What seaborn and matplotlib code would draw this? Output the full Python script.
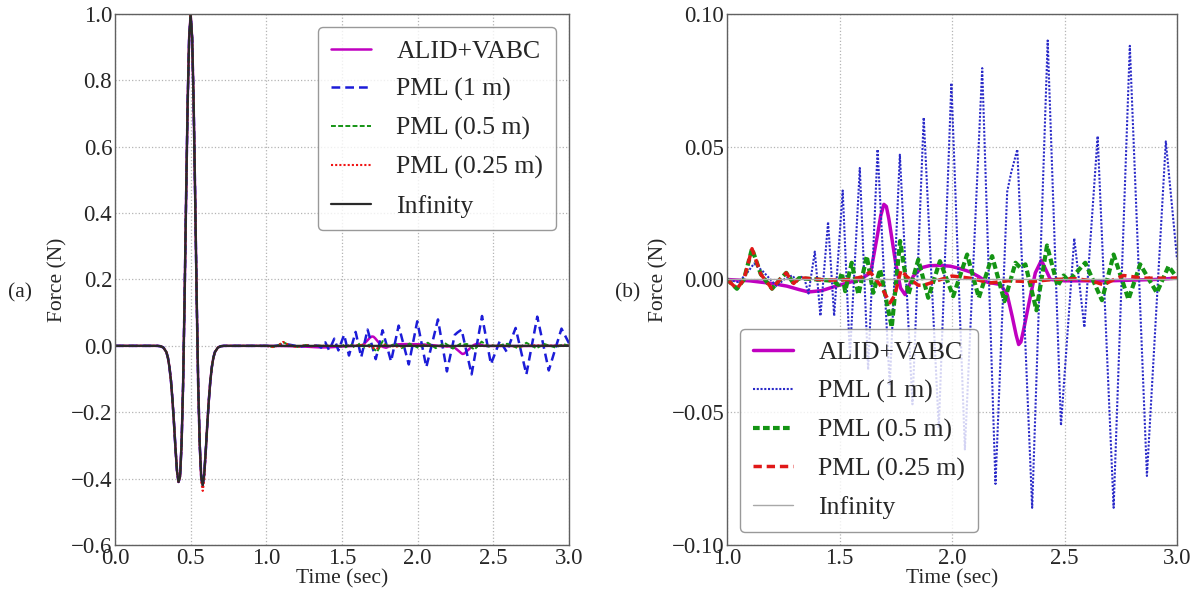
import matplotlib
import pandas as pd
import seaborn as sns

matplotlib.use("Agg")
import matplotlib.pyplot as plt


sns.set_style("white")
plt.rcParams.update({
    "font.family": ["Liberation Serif", "DejaVu Serif"],
    "axes.unicode_minus": True,
})

# incident Ricker-like pulse, shared by every model
PULSE_TIME = [0.28, 0.30, 0.32, 0.34, 0.35, 0.36, 0.37, 0.38, 0.39, 0.40, 0.41, 0.42, 0.43,
              0.44, 0.45, 0.46, 0.47, 0.48, 0.49, 0.50, 0.51, 0.52, 0.53, 0.54, 0.55, 0.56,
              0.57, 0.58, 0.59, 0.60, 0.61, 0.62, 0.63, 0.64, 0.65, 0.66, 0.68, 0.70, 0.72]
PULSE_FORCE = [0.0, -0.001, -0.005, -0.019, -0.036, -0.064, -0.105, -0.163, -0.233, -0.310,
               -0.378, -0.410, -0.394, -0.297, -0.120, 0.142, 0.445, 0.727, 0.928, 1.000,
               0.928, 0.727, 0.445, 0.142, -0.120, -0.297, -0.397, -0.420, -0.385, -0.315,
               -0.237, -0.165, -0.106, -0.064, -0.036, -0.019, -0.005, -0.001, 0.0]
# PML (0.25 m) dips a little deeper at the second trough
PML025_TROUGH_TIME = [0.57, 0.58, 0.59]
PML025_TROUGH_FORCE = [-0.410, -0.437, -0.402]

ALID_TIME = [0.75, 1.00, 1.10, 1.20, 1.266, 1.32, 1.362, 1.42, 1.473, 1.547, 1.591, 1.638,
             1.668, 1.683, 1.697, 1.708, 1.719, 1.749, 1.771, 1.791, 1.828, 1.866, 1.90,
             1.948, 1.993, 2.04, 2.082, 2.12, 2.156, 2.215, 2.245, 2.267, 2.285, 2.296,
             2.306, 2.318, 2.348, 2.370, 2.397, 2.415, 2.437, 2.50, 2.70, 2.90, 3.00]
ALID_FORCE = [0.0, 0.0, -0.0005, -0.0015, -0.0025, -0.0038, -0.0047, -0.0042, -0.0028,
              -0.001, 0.0, 0.0025, 0.0165, 0.024, 0.0283, 0.0275, 0.0229, 0.0064, -0.0032,
              -0.0057, 0.0013, 0.0045, 0.0052, 0.0053, 0.005, 0.004, 0.0028, 0.001, -0.001,
              -0.0019, -0.0057, -0.0138, -0.021, -0.0245, -0.0235, -0.0189, -0.0063, 0.0025,
              0.0072, 0.004, 0.0, -0.0005, -0.0005, 0.0, 0.0005]

PML1_TIME = [0.75, 1.00, 1.05, 1.085, 1.12, 1.16, 1.22, 1.26, 1.29, 1.31, 1.33, 1.345, 1.362,
             1.39, 1.415, 1.449, 1.476, 1.514, 1.546, 1.590, 1.627, 1.669, 1.723, 1.768,
             1.824, 1.874, 1.941, 1.997, 2.057, 2.134, 2.193, 2.245, 2.262, 2.290, 2.356,
             2.425, 2.484, 2.543, 2.588, 2.647, 2.718, 2.790, 2.866, 2.950, 3.000]
PML1_FORCE = [0.0, 0.0, -0.001, 0.002, 0.006, 0.003, -0.0025, 0.0005, 0.0015, -0.0005, 0.001,
              0.0, -0.0053, 0.0105, -0.0137, 0.0217, -0.0137, 0.0335, -0.029, 0.042, -0.034,
              0.049, -0.040, 0.047, -0.047, 0.061, -0.056, 0.074, -0.064, 0.0796, -0.077,
              0.033, 0.040, 0.049, -0.086, 0.090, -0.055, 0.0155, -0.018, 0.054, -0.086,
              0.088, -0.074, 0.052, 0.0076]

PML05_TIME = [0.75, 1.00, 1.044, 1.075, 1.111, 1.15, 1.20, 1.235, 1.263, 1.296, 1.32, 1.40,
              1.47, 1.495, 1.51, 1.525, 1.554, 1.584, 1.621, 1.65, 1.68, 1.732, 1.769, 1.806,
              1.85, 1.894, 1.946, 2.005, 2.067, 2.119, 2.178, 2.233, 2.282, 2.304, 2.326,
              2.375, 2.422, 2.469, 2.496, 2.518, 2.592, 2.666, 2.718, 2.784, 2.836, 2.91,
              2.962, 3.0]
PML05_FORCE = [0.0, 0.0, -0.0035, 0.0, 0.0116, 0.002, -0.0035, 0.0, 0.0025, -0.0015, 0.0005,
               0.0, -0.0005, -0.002, 0.0025, -0.0044, 0.0063, -0.0057, 0.0088, -0.005, 0.0038,
               -0.018, 0.0145, -0.0057, 0.0075, -0.0069, 0.0069, -0.0063, 0.0094, -0.0069,
               0.0088, -0.0082, 0.0063, 0.0044, 0.0057, -0.0116, 0.0128, -0.0025, 0.0015,
               -0.0006, 0.0063, -0.0078, 0.0094, -0.0075, 0.0057, -0.005, 0.005, 0.0006]

PML025_TIME = [0.75, 1.00, 1.044, 1.075, 1.111, 1.15, 1.20, 1.235, 1.263, 1.296, 1.32, 1.35,
               1.45, 1.55, 1.60, 1.636, 1.68, 1.724, 1.745, 1.773, 1.80, 1.85, 1.88, 1.95,
               2.00, 2.08, 2.17, 2.25, 2.35, 2.45, 2.55, 2.62, 2.673, 2.72, 2.762, 2.85, 3.0]
PML025_FORCE = [0.0, 0.0, -0.0035, 0.0, 0.0116, 0.002, -0.0035, 0.0, 0.0025, -0.0015, 0.0005,
                0.0005, -0.0003, 0.0, 0.001, 0.0028, -0.002, -0.0088, -0.006, 0.0035, 0.001,
                -0.0022, -0.002, 0.0, 0.0013, 0.0005, -0.0013, -0.0005, -0.0008, 0.0, 0.0003,
                -0.0005, -0.002, 0.0, 0.0015, 0.0005, 0.0005]

INFINITY_TIME = [0.75, 3.0]
INFINITY_FORCE = [0.0, 0.0]

MODELS = ["ALID+VABC", "PML (1 m)", "PML (0.5 m)", "PML (0.25 m)", "Infinity"]

STYLE_A = {
    "ALID+VABC": dict(color="#c000c0", linestyle="-", linewidth=1.8),
    "PML (1 m)": dict(color="#1c1cd8", linestyle=(0, (3.5, 2)), linewidth=1.8),
    "PML (0.5 m)": dict(color="#149414", linestyle=(0, (2.5, 1.2)), linewidth=1.4),
    "PML (0.25 m)": dict(color="#f01414", linestyle=(0, (1, 1)), linewidth=1.5),
    "Infinity": dict(color="#2a2a2a", linestyle="-", linewidth=1.6),
}
STYLE_B = {
    "ALID+VABC": dict(color="#c000c0", linestyle="-", linewidth=2.5),
    "PML (1 m)": dict(color="#2a2ac8", linestyle=(0, (1, 0.8)), linewidth=1.5),
    "PML (0.5 m)": dict(color="#149414", linestyle=(0, (1.6, 0.8)), linewidth=3.0),
    "PML (0.25 m)": dict(color="#e01818", linestyle=(0, (2.4, 1.4)), linewidth=2.5),
    "Infinity": dict(color="#a8a8a8", linestyle="-", linewidth=1.0),
}


def build_series() -> pd.DataFrame:
    pml025_pulse = list(PULSE_FORCE)
    for t, f in zip(PML025_TROUGH_TIME, PML025_TROUGH_FORCE):
        pml025_pulse[PULSE_TIME.index(t)] = f

    tails = {
        "ALID+VABC": (ALID_TIME, ALID_FORCE, PULSE_FORCE),
        "PML (1 m)": (PML1_TIME, PML1_FORCE, PULSE_FORCE),
        "PML (0.5 m)": (PML05_TIME, PML05_FORCE, PULSE_FORCE),
        "PML (0.25 m)": (PML025_TIME, PML025_FORCE, pml025_pulse),
        "Infinity": (INFINITY_TIME, INFINITY_FORCE, PULSE_FORCE),
    }
    records = []
    for model, (tail_t, tail_f, pulse_f) in tails.items():
        times = [0.0] + PULSE_TIME + tail_t
        forces = [0.0] + list(pulse_f) + tail_f
        for t, f in zip(times, forces):
            records.append({"model": model, "time": t, "force": f})
    return pd.DataFrame(records)


def draw_panel(ax, data, styles, xlim, ylim, xticks, yticks, legend_loc):
    for model in MODELS:
        sub = data[data["model"] == model]
        sns.lineplot(data=sub, x="time", y="force", ax=ax, label=model,
                     estimator=None, errorbar=None, sort=False, **styles[model])

    ax.set_xlim(*xlim)
    ax.set_ylim(*ylim)
    ax.set_xticks(xticks)
    ax.set_yticks(yticks)
    ax.grid(True, linestyle=":", color="#b4b4b4", linewidth=0.9)
    ax.set_axisbelow(True)
    for spine in ax.spines.values():
        spine.set_color("#606060")
        spine.set_linewidth(1.0)
    ax.tick_params(labelsize=16.5, direction="in", length=3, color="#606060")
    ax.tick_params(axis="x", pad=2)
    ax.tick_params(axis="y", pad=2)
    ax.set_xlabel("Time (sec)", fontsize=15.5, labelpad=0)
    ax.set_ylabel("Force (N)", fontsize=15.5, labelpad=2)

    leg = ax.legend(loc=legend_loc, fontsize=18.5, handlelength=1.55, handletextpad=1.0,
                    labelspacing=0.6, borderpad=0.5, fancybox=True, framealpha=0.8)
    leg.get_frame().set_edgecolor("#808080")
    leg.get_frame().set_linewidth(1.0)


data = build_series()

fig = plt.figure(figsize=(11.95, 5.92), dpi=100)
ax_a = fig.add_axes([0.0962, 0.0794, 0.3800, 0.8970])
ax_b = fig.add_axes([0.6084, 0.0794, 0.3766, 0.8970])

draw_panel(ax_a, data, STYLE_A, (0.0, 3.0), (-0.6, 1.0),
           [0.0, 0.5, 1.0, 1.5, 2.0, 2.5, 3.0],
           [-0.6, -0.4, -0.2, 0.0, 0.2, 0.4, 0.6, 0.8, 1.0], "upper right")
draw_panel(ax_b, data, STYLE_B, (1.0, 3.0), (-0.10, 0.10),
           [1.0, 1.5, 2.0, 2.5, 3.0],
           [-0.10, -0.05, 0.00, 0.05, 0.10], "lower left")

fig.text(0.007, 0.505, "(a)", fontsize=15.5, ha="left", va="center")
fig.text(0.515, 0.505, "(b)", fontsize=15.5, ha="left", va="center")

fig.savefig("out.png", dpi=100)
